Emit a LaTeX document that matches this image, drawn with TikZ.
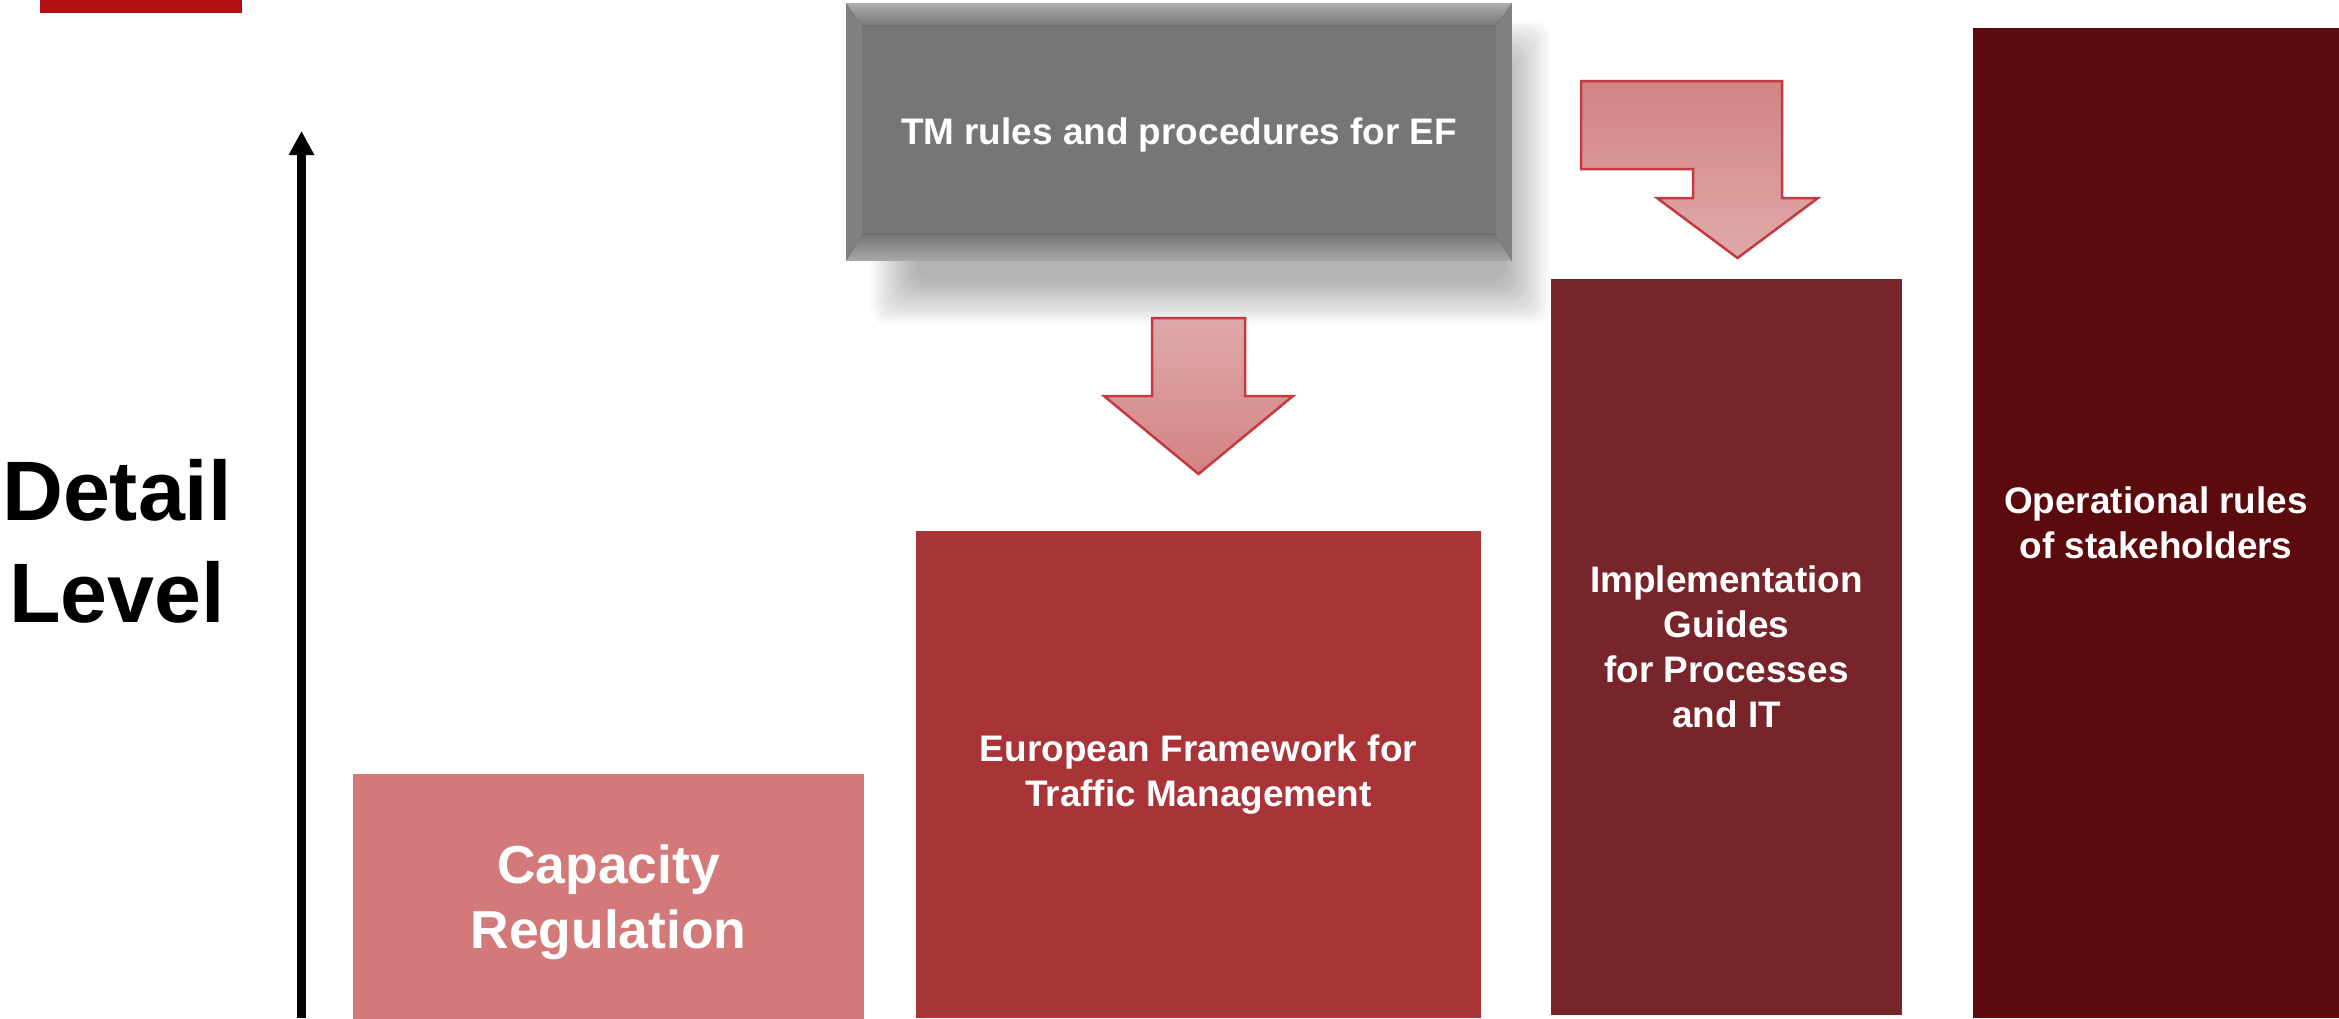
\documentclass[tikz,border=0pt]{standalone}
\usepackage{fontspec}
\setmainfont{Liberation Sans}
\usetikzlibrary{arrows.meta}
\definecolor{capc}{HTML}{D47979}
\definecolor{eurc}{HTML}{A83437}
\definecolor{impc}{HTML}{77252A}
\definecolor{opc}{HTML}{5B0A0D}
\definecolor{barc}{HTML}{B31014}
\definecolor{tmgray}{HTML}{767676}
\definecolor{bevtop}{HTML}{ADADAD}
\definecolor{bevbot}{HTML}{A8A8A8}
\definecolor{bevside}{HTML}{808080}
\definecolor{arrline}{HTML}{C33B3E}
\definecolor{arrlight}{HTML}{DFA9A9}
\definecolor{arrdark}{HTML}{D38383}
\tikzset{
  levelbox/.style={rectangle, inner sep=0pt, text=white, align=center,
    font={\fontsize{10.5pt}{12.8pt}\selectfont\bfseries}},
  bigtext/.style={font={\fontsize{24pt}{29pt}\selectfont\bfseries}, inner sep=0pt},
  blockarrow/.style={draw=arrline, line width=0.025cm, line join=miter},
  axisarrow/.style={line width=0.09cm, -{Triangle[width=0.24cm,length=0.24cm]}}
}
\begin{document}
\begin{tikzpicture}[x=0.01cm,y=-0.01cm]
\useasboundingbox (0,0) rectangle (2339,1018);

% top-left red bar
\fill[barc] (40,0) rectangle (242,13);

% vertical axis
\coordinate (axisbase) at (301.5,1018);
\coordinate (axistip) at (301.5,131);
\draw[axisarrow] (axisbase) -- (axistip);

% Detail Level
\node[bigtext, anchor=base] (detail) at (117,520) {Detail};
\node[bigtext, anchor=base] (level) at (117,622) {Level};

% shadow of grey box
\foreach \i in {0,...,14} {
  \pgfmathsetmacro{\e}{24-3.2*\i}
  \fill[black, opacity=0.024, rounded corners=0.15cm]
    (895-\e,45-\e) rectangle (1525+\e,300+\e);
}

% grey box
\node[levelbox, fill=tmgray, minimum width=6.64cm, minimum height=2.56cm] (tm) at (1179,132) {};
\fill[top color=bevtop, bottom color=tmgray]
  (tm.north west) -- (tm.north east) -- ([shift={(-16,23)}]tm.north east) -- ([shift={(16,23)}]tm.north west) -- cycle;
\fill[top color=tmgray, bottom color=bevbot]
  (tm.south west) -- (tm.south east) -- ([shift={(-16,-26)}]tm.south east) -- ([shift={(16,-26)}]tm.south west) -- cycle;
\fill[bevside]
  (tm.north west) -- ([shift={(16,23)}]tm.north west) -- ([shift={(16,-26)}]tm.south west) -- (tm.south west) -- cycle;
\fill[bevside]
  (tm.north east) -- ([shift={(-16,23)}]tm.north east) -- ([shift={(-16,-26)}]tm.south east) -- (tm.south east) -- cycle;
\node[levelbox] (tmtext) at ([yshift=-0.03cm]tm.center) {TM rules and procedures for EF};

% level boxes
\node[levelbox, fill=capc, minimum width=5.10cm, minimum height=2.56cm,
  font={\fontsize{15.2pt}{18.4pt}\selectfont\bfseries}] (cap) at (608.5,902) {Capacity\\Regulation};
\node[levelbox, fill=eurc, minimum width=5.65cm, minimum height=4.87cm] (eur) at (1198.5,774.5) {European Framework for\\Traffic Management};
\node[levelbox, fill=impc, minimum width=3.51cm, minimum height=7.36cm] (imp) at (1726.5,647) {Implementation\\Guides\\for Processes\\and IT};
\node[levelbox, fill=opc, minimum width=3.66cm, minimum height=9.90cm] (op) at (2156,523) {Operational rules\\of stakeholders};

% block arrow to European Framework
\filldraw[blockarrow, top color=arrlight, bottom color=arrdark]
  (1152,318) -- (1245,318) -- (1245,396) -- (1293,396) -- (1198.5,474)
  -- (1104,396) -- (1152,396) -- cycle;

% bent block arrow to Implementation Guides
\filldraw[blockarrow, top color=arrdark, bottom color=arrlight]
  (1581,81) -- (1782,81) -- (1782,198) -- (1818,198) -- (1737.5,258)
  -- (1657,198) -- (1693,198) -- (1693,169) -- (1581,169) -- cycle;
\end{tikzpicture}
\end{document}
